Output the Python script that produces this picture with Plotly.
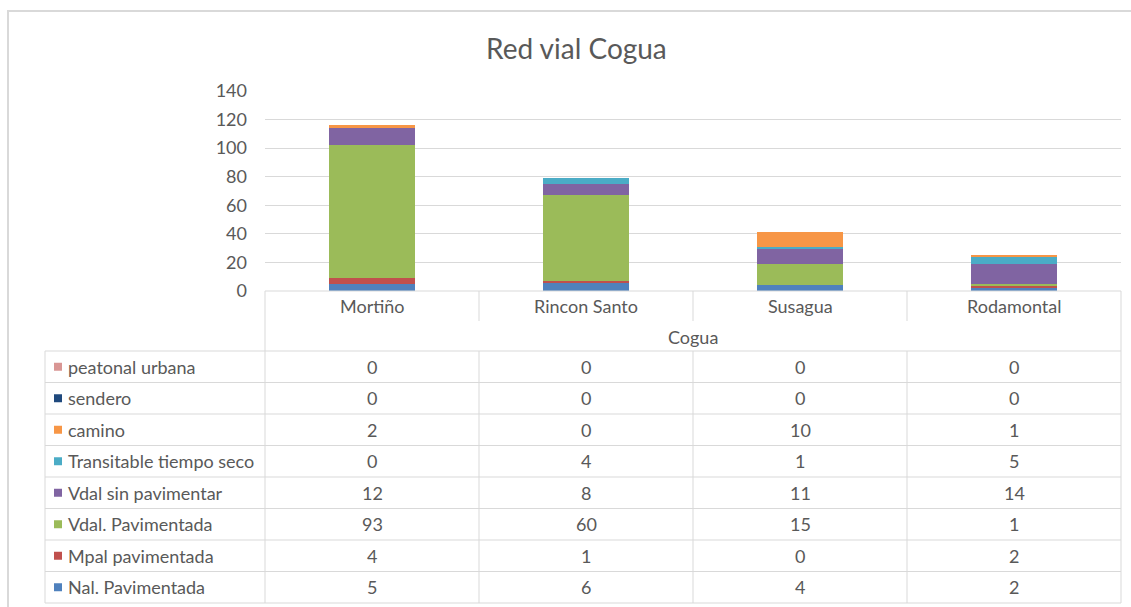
import plotly.graph_objects as go

W, H = 1131, 607

title = "Red vial Cogua"
group_label = "Cogua"
categories = ["Mortiño", "Rincon Santo", "Susagua", "Rodamontal"]

# series in stacking order (bottom -> top)
series_names = ["Nal. Pavimentada", "Mpal pavimentada", "Vdal. Pavimentada",
                "Vdal sin pavimentar", "Transitable tiempo seco", "camino",
                "sendero", "peatonal urbana"]
nal_pavimentada = [5, 6, 4, 2]
mpal_pavimentada = [4, 1, 0, 2]
vdal_pavimentada = [93, 60, 15, 1]
vdal_sin_pavimentar = [12, 8, 11, 14]
transitable_tiempo_seco = [0, 4, 1, 5]
camino = [2, 0, 10, 1]
sendero = [0, 0, 0, 0]
peatonal_urbana = [0, 0, 0, 0]
series_values = [nal_pavimentada, mpal_pavimentada, vdal_pavimentada,
                 vdal_sin_pavimentar, transitable_tiempo_seco, camino,
                 sendero, peatonal_urbana]
series_colors = ["#4f81bd", "#c0504d", "#9bbb59", "#8064a2",
                 "#4bacc6", "#f79646", "#1f497d", "#d99694"]

y_ticks = [0, 20, 40, 60, 80, 100, 120, 140]

FONT = "Lato"
TXT = "#595959"
GRID = "#d9d9d9"
FS = 18


def px(x):
    return x / W


def py(y):
    return 1 - y / H


PL, PR, PT, PB = 265, 1121, 91, 291
xs = list(range(len(categories)))

fig = go.Figure()
for name, vals, col in zip(series_names, series_values, series_colors):
    fig.add_trace(go.Bar(x=xs, y=vals, name=name, marker=dict(color=col, line=dict(width=0)),
                         width=0.4, showlegend=False))

shapes = []


def hline(y, x0, x1, w=1):
    shapes.append(dict(type="line", xref="paper", yref="paper", x0=px(x0), x1=px(x1),
                       y0=py(y), y1=py(y), line=dict(color=GRID, width=w)))


def vline(x, y0, y1, w=1):
    shapes.append(dict(type="line", xref="paper", yref="paper", x0=px(x), x1=px(x),
                       y0=py(y0), y1=py(y1), line=dict(color=GRID, width=w)))


# outer chart border
shapes.append(dict(type="rect", xref="paper", yref="paper", x0=px(8), x1=px(1140),
                   y0=py(620), y1=py(11), line=dict(color=GRID, width=2)))

TT = 351
ROW_H = (603 - 351) / 8
hline(PB, PL, PR)
vline(PL, PB, 603)
vline(PR, PB, 603)
for sx in [479, 693, 907]:
    vline(sx, PB, 321)
    vline(sx, TT, 603)
for k in range(9):
    hline(TT + k * ROW_H, 45, PR)
vline(45, TT, 603)

annotations = []
annotations.append(dict(text=title, xref="paper", yref="paper", x=px(576), y=py(48),
                        showarrow=False, font=dict(family=FONT, size=28, color=TXT),
                        xanchor="center", yanchor="middle"))
for i, c in enumerate(categories):
    annotations.append(dict(text=c, xref="x", yref="paper", x=i, y=py(306), showarrow=False,
                            font=dict(family=FONT, size=FS, color=TXT),
                            xanchor="center", yanchor="middle"))
annotations.append(dict(text=group_label, xref="paper", yref="paper", x=px(693), y=py(337),
                        showarrow=False, font=dict(family=FONT, size=FS, color=TXT),
                        xanchor="center", yanchor="middle"))

# table rows: top row = last series
for k, idx in enumerate(reversed(range(len(series_names)))):
    cy = TT + (k + 0.5) * ROW_H
    shapes.append(dict(type="rect", xref="paper", yref="paper", x0=px(54), x1=px(62),
                       y0=py(cy + 4), y1=py(cy - 4), fillcolor=series_colors[idx],
                       line=dict(width=0)))
    annotations.append(dict(text=series_names[idx], xref="paper", yref="paper", x=px(66),
                            y=py(cy), showarrow=False, font=dict(family=FONT, size=FS, color=TXT),
                            xanchor="left", yanchor="middle"))
    for i, v in enumerate(series_values[idx]):
        annotations.append(dict(text=str(v), xref="x", yref="paper", x=i, y=py(cy),
                                showarrow=False, font=dict(family=FONT, size=FS, color=TXT),
                                xanchor="center", yanchor="middle"))

fig.update_layout(
    width=W, height=H, margin=dict(l=0, r=0, t=0, b=0, pad=0, autoexpand=False),
    paper_bgcolor="white", plot_bgcolor="white", barmode="stack",
    xaxis=dict(domain=[px(PL), px(PR)], range=[-0.5, 3.5], showticklabels=False,
               showgrid=False, zeroline=False, showline=False, fixedrange=True,
               automargin=False),
    yaxis=dict(domain=[py(PB), py(PT)], range=[0, 140], tickvals=y_ticks,
               showgrid=True, gridcolor=GRID, gridwidth=1, zeroline=False, showline=False,
               ticks="", ticklabelstandoff=17, automargin=False, fixedrange=True,
               tickfont=dict(family=FONT, size=FS, color=TXT)),
    shapes=shapes, annotations=annotations, showlegend=False,
)

fig.write_html("out.html", config={"displayModeBar": False},
               post_script="document.body.style.margin='0';document.body.style.overflow='hidden';")
